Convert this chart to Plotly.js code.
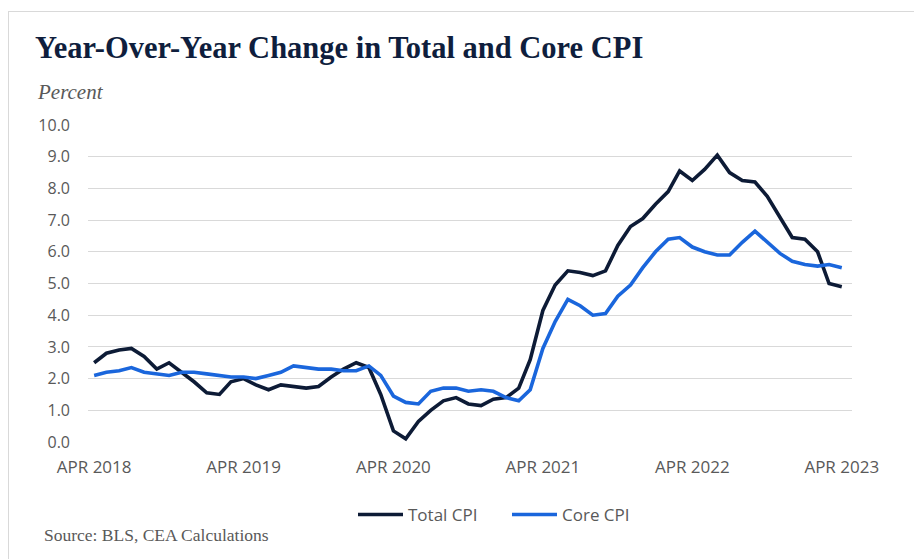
<!DOCTYPE html>
<html>
<head>
<meta charset="utf-8">
<script src="https://cdn.plot.ly/plotly-3.0.1.min.js"></script>
<style>
  html, body { margin: 0; padding: 0; background: #ffffff; }
  #wrap { position: relative; width: 914px; height: 559px; overflow: hidden; }
  #chart { position: absolute; left: 0; top: 0; width: 914px; height: 559px; }
  .frameTop { position: absolute; left: 8px; top: 11px; width: 906px; height: 1px; background: #d9d9d9; }
  .frameLeft { position: absolute; left: 8px; top: 11px; width: 1px; height: 548px; background: #d9d9d9; }
</style>
</head>
<body>
<div id="wrap">
  <div id="chart"></div>
  <div class="frameTop"></div>
  <div class="frameLeft"></div>
</div>
<script>
// ---- Data ----
var months = [
  "2018-04-01","2018-05-01","2018-06-01","2018-07-01","2018-08-01","2018-09-01","2018-10-01","2018-11-01","2018-12-01",
  "2019-01-01","2019-02-01","2019-03-01","2019-04-01","2019-05-01","2019-06-01","2019-07-01","2019-08-01","2019-09-01","2019-10-01","2019-11-01","2019-12-01",
  "2020-01-01","2020-02-01","2020-03-01","2020-04-01","2020-05-01","2020-06-01","2020-07-01","2020-08-01","2020-09-01","2020-10-01","2020-11-01","2020-12-01",
  "2021-01-01","2021-02-01","2021-03-01","2021-04-01","2021-05-01","2021-06-01","2021-07-01","2021-08-01","2021-09-01","2021-10-01","2021-11-01","2021-12-01",
  "2022-01-01","2022-02-01","2022-03-01","2022-04-01","2022-05-01","2022-06-01","2022-07-01","2022-08-01","2022-09-01","2022-10-01","2022-11-01","2022-12-01",
  "2023-01-01","2023-02-01","2023-03-01","2023-04-01"
];

var totalCPI = [
  2.5, 2.8, 2.9, 2.95, 2.7, 2.3, 2.5, 2.2, 1.9,
  1.55, 1.5, 1.9, 2.0, 1.8, 1.65, 1.8, 1.75, 1.7, 1.75, 2.05, 2.3,
  2.5, 2.35, 1.5, 0.35, 0.1, 0.65, 1.0, 1.3, 1.4, 1.2, 1.15, 1.35,
  1.4, 1.7, 2.6, 4.15, 4.95, 5.4, 5.35, 5.25, 5.4, 6.2, 6.8, 7.05,
  7.5, 7.9, 8.55, 8.25, 8.6, 9.05, 8.5, 8.25, 8.2, 7.75, 7.1, 6.45,
  6.4, 6.0, 5.0, 4.9
];

var coreCPI = [
  2.1, 2.2, 2.25, 2.35, 2.2, 2.15, 2.1, 2.2, 2.2,
  2.15, 2.1, 2.05, 2.05, 2.0, 2.1, 2.2, 2.4, 2.35, 2.3, 2.3, 2.25,
  2.25, 2.4, 2.1, 1.45, 1.25, 1.2, 1.6, 1.7, 1.7, 1.6, 1.65, 1.6,
  1.4, 1.3, 1.65, 2.95, 3.8, 4.5, 4.3, 4.0, 4.05, 4.6, 4.95, 5.5,
  6.0, 6.4, 6.45, 6.15, 6.0, 5.9, 5.9, 6.3, 6.65, 6.3, 5.95, 5.7,
  5.6, 5.55, 5.6, 5.5
];

var tickDates = ["2018-04-01","2019-04-01","2020-04-01","2021-04-01","2022-04-01","2023-04-01"];
var tickLabels = ["APR 2018","APR 2019","APR 2020","APR 2021","APR 2022","APR 2023"];
var yTicks = [0,1,2,3,4,5,6,7,8,9,10];
var yTickLabels = ["0.0","1.0","2.0","3.0","4.0","5.0","6.0","7.0","8.0","9.0","10.0"];

var seriesNames = ["Total CPI", "Core CPI"];
var chartTitle = "Year-Over-Year Change in Total and Core CPI";
var unitLabel = "Percent";
var sourceText = "Source: BLS, CEA Calculations";

// ---- Plot ----
var sansFont = "'Open Sans', 'Noto Sans', sans-serif";
var serifFont = "'Liberation Serif', 'DejaVu Serif', serif";

var traces = [
  {
    x: months, y: totalCPI, name: seriesNames[0], type: "scatter", mode: "lines",
    line: { color: "#0d1b36", width: 3.6 }
  },
  {
    x: months, y: coreCPI, name: seriesNames[1], type: "scatter", mode: "lines",
    line: { color: "#1a66dc", width: 3.6 }
  }
];

var layout = {
  width: 914, height: 559,
  paper_bgcolor: "#ffffff", plot_bgcolor: "#ffffff",
  margin: { l: 88, r: 62, t: 125, b: 117 },
  showlegend: true,
  title: {
    text: "<b>" + chartTitle + "</b>",
    font: { family: serifFont, size: 30.5, color: "#0f1e3d" },
    x: 35 / 914, xanchor: "left", xref: "container",
    y: 1 - 47 / 559, yanchor: "middle", yref: "container"
  },
  xaxis: {
    type: "date",
    range: ["2018-03-17", "2023-04-26"],
    tickvals: tickDates, ticktext: tickLabels,
    showgrid: false, zeroline: false, showline: false, ticks: "",
    tickfont: { family: sansFont, size: 17, color: "#595959" },
    ticklabelstandoff: 13
  },
  yaxis: {
    range: [0, 10],
    tickvals: yTicks, ticktext: yTickLabels,
    showgrid: true, gridcolor: "#d9d9d9", gridwidth: 1,
    zeroline: false, showline: false, ticks: "",
    tickfont: { family: sansFont, size: 16, color: "#595959" },
    ticklabelstandoff: 17
  },
  legend: {
    orientation: "h",
    x: (353 - 88) / 764, xanchor: "left",
    y: -0.23, yanchor: "middle",
    font: { family: sansFont, size: 17, color: "#595959" },
    itemwidth: 45,
    entrywidth: 94, entrywidthmode: "pixels",
    bgcolor: "rgba(0,0,0,0)"
  },
  annotations: [
    {
      text: "<i>" + unitLabel + "</i>", showarrow: false,
      xref: "paper", yref: "paper",
      x: (35 - 88) / 764, xanchor: "left",
      y: (442 - 92) / 317, yanchor: "middle",
      font: { family: serifFont, size: 21, color: "#595959" }
    },
    {
      text: sourceText, showarrow: false,
      xref: "paper", yref: "paper",
      x: (42 - 88) / 764, xanchor: "left",
      y: (442 - 535) / 317, yanchor: "middle",
      font: { family: serifFont, size: 17.5, color: "#595959" }
    }
  ]
};

Plotly.newPlot("chart", traces, layout, { displayModeBar: false, staticPlot: true });
</script>
</body>
</html>
